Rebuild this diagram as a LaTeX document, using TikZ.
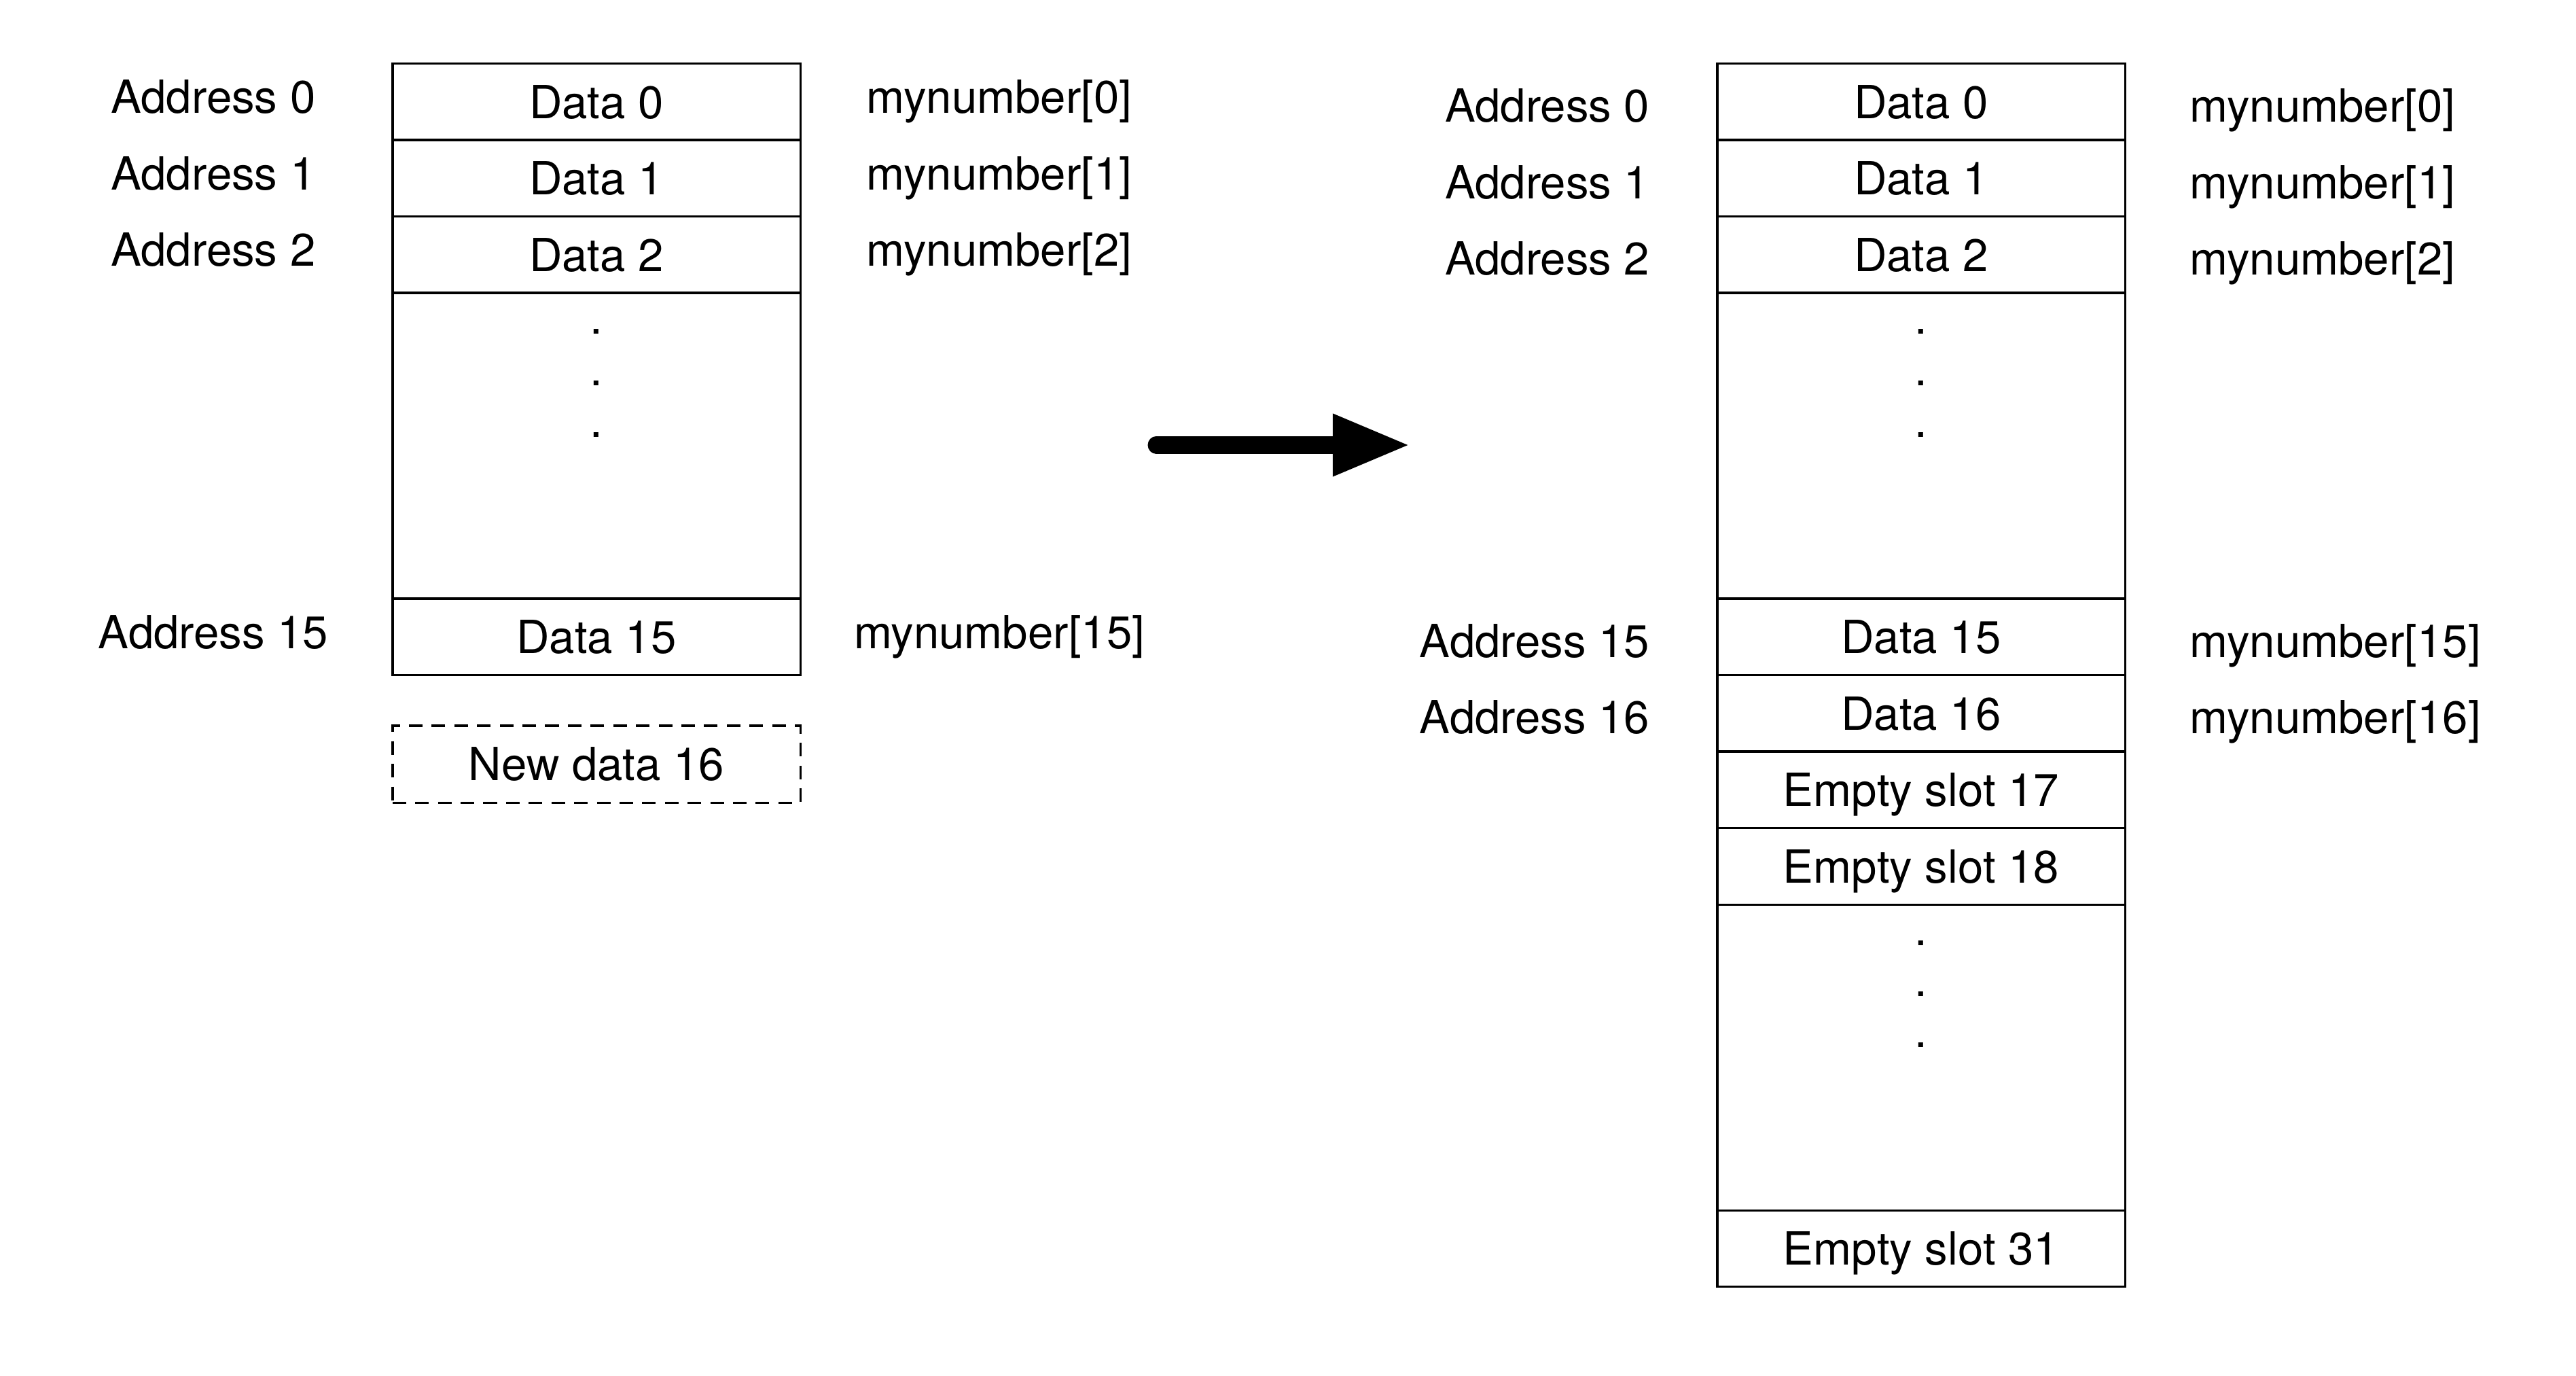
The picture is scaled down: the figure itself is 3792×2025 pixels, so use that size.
\documentclass[tikz,border=0pt]{standalone}
\usepackage{fontspec}
\setmainfont{TeX Gyre Heros}
\usetikzlibrary{arrows.meta}
\begin{document}
\begin{tikzpicture}[x=0.01cm,y=-0.01cm,
  every node/.style={font=\fontsize{19.1pt}{22pt}\selectfont, inner sep=0pt},
  cell/.style={draw, line width=0.95pt, minimum width=6cm, minimum height=1.125cm, text height=13.7pt, text depth=0pt, anchor=north},
  gap/.style={draw, line width=0.95pt, minimum width=6cm, minimum height=4.5cm, anchor=north},
  newcell/.style={draw, dashed, dash pattern=on 5.7pt off 3.8pt, line width=0.95pt, minimum width=6cm, minimum height=1.13cm, text height=13.7pt, text depth=0pt, anchor=north},
  lbl/.style={anchor=base},
  lblR/.style={anchor=base east},
  lblL/.style={anchor=base west},
  dotlbl/.style={anchor=base}
]
\useasboundingbox (0,0) rectangle (3792,2025);

% ---------- left column ----------
\node[cell] (l0) at (878,92) {Data 0};
\node[cell] (l1) at (878,204.5) {Data 1};
\node[cell] (l2) at (878,317) {Data 2};
\node[gap]  (lg) at (878,429.5) {};
\node[cell] (l15) at (878,879.5) {Data 15};
\node[newcell] (lnew) at (878,1066.5) {New data 16};

\node[dotlbl] (ld1) at (878,492) {.};
\node[dotlbl] (ld2) at (878,568) {.};
\node[dotlbl] (ld3) at (878,644) {.};

\node[lbl] (la0) at (314,167) {Address 0};
\node[lbl] (la1) at (314,279.5) {Address 1};
\node[lbl] (la2) at (314,392) {Address 2};
\node[lbl] (la15) at (314,954.5) {Address 15};

\node[lbl] (lm0) at (1471,167) {mynumber[0]};
\node[lbl] (lm1) at (1471,279.5) {mynumber[1]};
\node[lbl] (lm2) at (1471,392) {mynumber[2]};
\node[lbl] (lm15) at (1471,954.5) {mynumber[15]};

% ---------- arrow ----------
\coordinate (as) at (1702,655);
\coordinate (ae) at (2076,655);
\draw[line width=25pt*0.2845, line cap=round, -{Triangle[length=1.14cm,width=0.85cm]}] (as) -- (ae);

% ---------- right column ----------
\node[cell] (r0) at (2828,92) {Data 0};
\node[cell] (r1) at (2828,204.5) {Data 1};
\node[cell] (r2) at (2828,317) {Data 2};
\node[gap]  (rg) at (2828,429.5) {};
\node[cell] (r15) at (2828,879.5) {Data 15};
\node[cell] (r16) at (2828,992) {Data 16};
\node[cell] (r17) at (2828,1104.5) {Empty slot 17};
\node[cell] (r18) at (2828,1217) {Empty slot 18};
\node[gap]  (rg2) at (2828,1329.5) {};
\node[cell] (r31) at (2828,1779.5) {Empty slot 31};

\node[dotlbl] (rd1) at (2828,492) {.};
\node[dotlbl] (rd2) at (2828,568) {.};
\node[dotlbl] (rd3) at (2828,644) {.};
\node[dotlbl] (rd4) at (2828,1391) {.};
\node[dotlbl] (rd5) at (2828,1466) {.};
\node[dotlbl] (rd6) at (2828,1541) {.};

\node[lblR] (ra0) at (2429,180) {Address 0};
\node[lblR] (ra1) at (2429,292.5) {Address 1};
\node[lblR] (ra2) at (2429,405) {Address 2};
\node[lblR] (ra15) at (2429,967.5) {Address 15};
\node[lblR] (ra16) at (2429,1080) {Address 16};

\node[lblL] (rm0) at (3223,180) {mynumber[0]};
\node[lblL] (rm1) at (3223,292.5) {mynumber[1]};
\node[lblL] (rm2) at (3223,405) {mynumber[2]};
\node[lblL] (rm15) at (3223,967.5) {mynumber[15]};
\node[lblL] (rm16) at (3223,1080) {mynumber[16]};
\end{tikzpicture}
\end{document}
